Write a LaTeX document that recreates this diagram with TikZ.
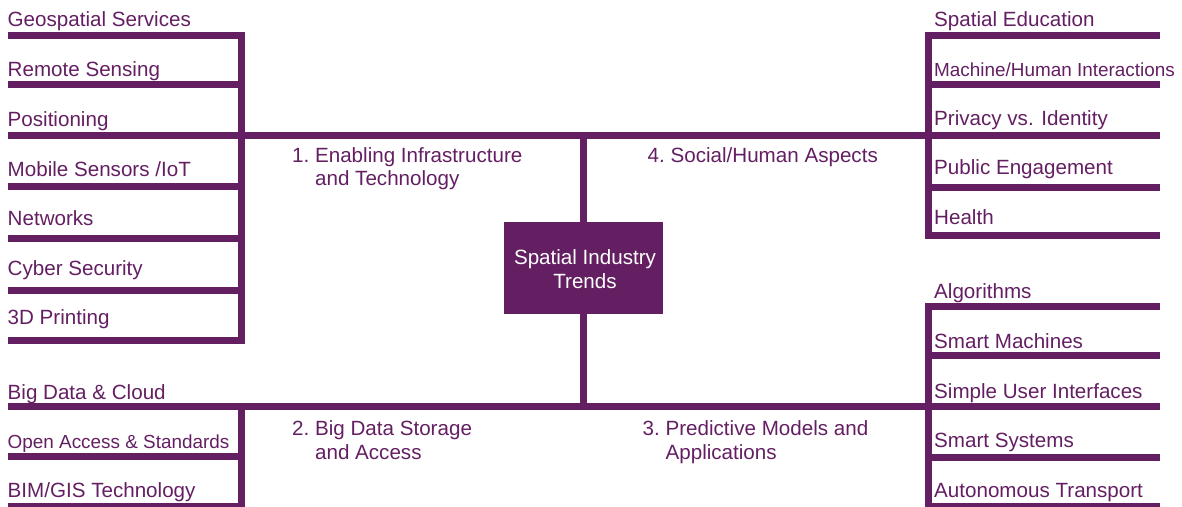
\documentclass[tikz,border=0pt]{standalone}
\usepackage{fontspec}
\setmainfont{Liberation Sans}
\definecolor{trendpurple}{RGB}{99,31,98}
\begin{document}
\begin{tikzpicture}[x=1pt,y=-1pt,
  bar/.style={draw=trendpurple,line width=7pt,line join=miter},
  item/.style={anchor=base west,inner sep=0pt,text=trendpurple,font=\fontsize{20.6}{24}\selectfont},
  smallitem/.style={item,font=\fontsize{18.9}{22}\selectfont},
  theme/.style={anchor=base west,inner sep=0pt,text=trendpurple,font=\fontsize{20.6}{23.5}\selectfont,align=left},
  hub/.style={fill=trendpurple,text=white,minimum width=159pt,minimum height=92pt,inner sep=0pt,
    align=center,font=\fontsize{20.6}{24}\selectfont}]
\useasboundingbox (0,0) rectangle (1182,506);

% junction points of the spine
\coordinate (LT) at (241.5,135);
\coordinate (RT) at (928.5,135);
\coordinate (LB) at (241.5,406.5);
\coordinate (RB) at (928.5,406.5);
\coordinate (CT) at (583.5,135);
\coordinate (CB) at (583.5,406.5);

% central hub
\node[hub] (hub) at (583.5,268) {};
\node[anchor=base,inner sep=0pt,text=white,font=\fontsize{20.6}{24}\selectfont] (hub1) at (585,264) {Spatial Industry};
\node[anchor=base,inner sep=0pt,text=white,font=\fontsize{20.6}{24}\selectfont] (hub2) at (585,288.5) {Trends};

% spine
\draw[bar] (LT) -- (RT);
\draw[bar] (LB) -- (RB);
\draw[bar] (CT) -- (hub.north);
\draw[bar] (hub.south) -- (CB);

% branch 1: left top
\draw[bar] (8,35) -- (241.5,35) -- (241.5,340.5) -- (8,340.5);
\foreach \y in {84,135,186.7,238.3,290} \draw[bar] (8,\y) -- (241.5,\y);
% branch 4: right top
\draw[bar] (1160,35) -- (928.5,35) -- (928.5,235.5) -- (1160,235.5);
\foreach \y in {84,135,187} \draw[bar] (928.5,\y) -- (1160,\y);
% branch 3: right bottom
\draw[bar] (1160,306.5) -- (928.5,306.5) -- (928.5,510);
\foreach \y in {355.5,406.5,457.5,506} \draw[bar] (928.5,\y) -- (1160,\y);
% branch 2: left bottom
\draw[bar] (8,406.5) -- (241.5,406.5) -- (241.5,510);
\foreach \y in {456,506} \draw[bar] (8,\y) -- (241.5,\y);

% left top items
\node[item] (l1) at (7.5,27) {Geospatial Services};
\node[item] (l2) at (7.5,76.5) {Remote Sensing};
\node[item] (l3) at (7.5,126.5) {Positioning};
\node[item] (l4) at (7.5,176) {Mobile Sensors /IoT};
\node[item] (l5) at (7.5,225.5) {Networks};
\node[item] (l6) at (7.5,275) {Cyber Security};
\node[item] (l7) at (7.5,324.5) {3D Printing};
% left bottom items
\node[item] (b1) at (7.5,399) {Big Data \& Cloud};
\node[smallitem] (b2) at (7.5,448) {Open Access \& Standards};
\node[item] (b3) at (7.5,497) {BIM/GIS Technology};
% right top items
\node[item] (r1) at (934,26.5) {Spatial Education};
\node[smallitem] (r2) at (934,76) {Machine/Human Interactions};
\node[item] (r3) at (934,125.5) {Privacy vs. Identity};
\node[item] (r4) at (934,174.5) {Public Engagement};
\node[item] (r5) at (934,224.5) {Health};
% right bottom items
\node[item] (s1) at (934,298.5) {Algorithms};
\node[item] (s2) at (934,348.5) {Smart Machines};
\node[item] (s3) at (934,398.5) {Simple User Interfaces};
\node[item] (s4) at (934,447.5) {Smart Systems};
\node[item] (s5) at (934,497) {Autonomous Transport};

% theme labels (anchored on the baseline of their last line)
\node[theme] (t1) at (292,185.5) {1.\ Enabling Infrastructure\\\hspace{22.9pt}and Technology};
\node[theme] (t4) at (647.5,162) {4.\ Social/Human Aspects};
\node[theme] (t2) at (292,459) {2.\ Big Data Storage\\\hspace{22.9pt}and Access};
\node[theme] (t3) at (642.5,459) {3.\ Predictive Models and\\\hspace{22.9pt}Applications};
\end{tikzpicture}
\end{document}
